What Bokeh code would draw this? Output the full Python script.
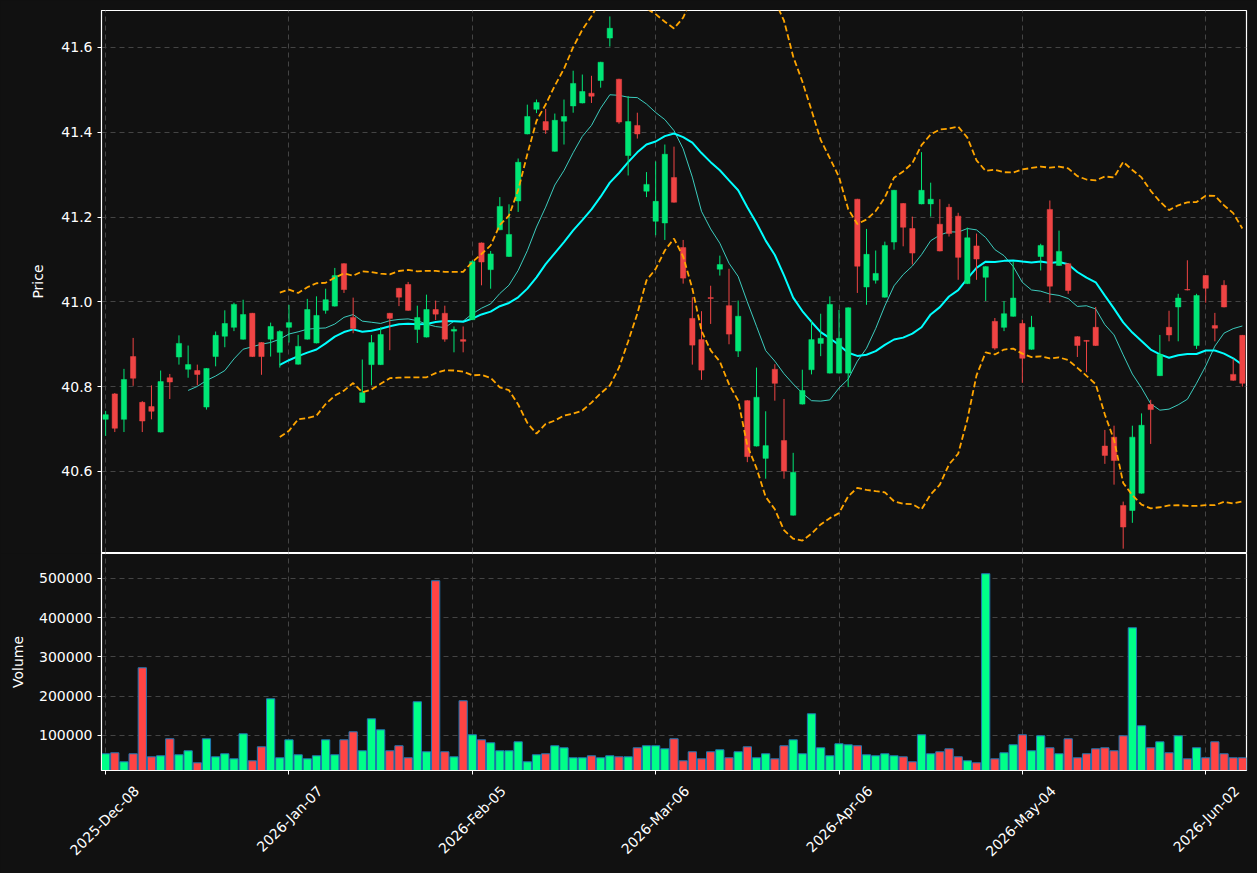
import numpy as np
import pandas as pd
from math import pi
from bokeh.plotting import figure
from bokeh.layouts import column
from bokeh.models import (ColumnDataSource, FixedTicker, NumeralTickFormatter, Range1d,
                          LinearAxis)
from bokeh.embed import file_html
from bokeh.resources import INLINE

opens = [40.723, 40.783, 40.723, 40.871, 40.763, 40.753, 40.693, 40.821, 40.870, 40.841,
         40.838, 40.752, 40.871, 40.919, 40.940, 40.912, 40.973, 40.904, 40.912, 40.881,
         40.940, 40.853, 40.912, 40.903, 40.980, 40.990, 41.090, 40.963, 40.763, 40.852,
         40.852, 40.973, 41.032, 41.041, 40.935, 40.917, 40.982, 40.973, 40.931, 40.911,
         40.958, 41.139, 41.076, 41.170, 41.107, 41.238, 41.396, 41.454, 41.425, 41.355,
         41.426, 41.462, 41.469, 41.492, 41.522, 41.622, 41.525, 41.345, 41.416, 41.261,
         41.190, 41.186, 41.293, 41.128, 40.961, 40.911, 41.010, 41.077, 40.991, 40.884,
         40.767, 40.660, 40.631, 40.841, 40.673, 40.497, 40.759, 40.840, 40.902, 40.832,
         40.832, 40.832, 41.242, 41.035, 41.051, 41.011, 41.141, 41.232, 41.173, 41.231,
         41.231, 41.183, 41.223, 41.202, 41.043, 41.132, 41.058, 40.954, 40.940, 40.966,
         40.949, 40.888, 41.107, 41.218, 41.086, 41.090, 40.918, 40.909, 40.940, 40.660,
         40.681, 40.520, 40.508, 40.549, 40.758, 40.826, 40.940, 40.988, 41.029, 40.897,
         41.062, 40.944, 41.039, 40.829, 40.921]
highs = [40.743, 40.785, 40.842, 40.915, 40.766, 40.803, 40.838, 40.830, 40.921, 40.897,
         40.852, 40.844, 40.930, 40.980, 40.998, 41.005, 40.974, 40.905, 40.951, 40.933,
         40.993, 40.922, 41.007, 41.013, 41.031, 41.080, 41.091, 41.010, 40.864, 40.922,
         40.940, 40.974, 41.033, 41.047, 40.991, 41.017, 41.003, 40.991, 40.942, 40.942,
         41.098, 41.140, 41.120, 41.247, 41.230, 41.338, 41.465, 41.477, 41.455, 41.444,
         41.477, 41.545, 41.536, 41.533, 41.566, 41.673, 41.526, 41.485, 41.446, 41.306,
         41.331, 41.371, 41.366, 41.146, 41.011, 40.978, 41.038, 41.109, 41.078, 41.003,
         40.768, 40.845, 40.742, 40.853, 40.771, 40.644, 40.840, 40.956, 40.972, 41.013,
         40.981, 40.987, 41.243, 41.172, 41.121, 41.142, 41.264, 41.233, 41.201, 41.353,
         41.281, 41.242, 41.231, 41.210, 41.175, 41.161, 41.084, 40.962, 41.002, 41.095,
         40.958, 40.967, 41.137, 41.239, 41.168, 41.091, 40.919, 40.910, 40.988, 40.698,
         40.708, 40.529, 40.708, 40.737, 40.769, 40.922, 40.979, 41.019, 41.098, 41.019,
         41.063, 40.974, 41.051, 40.866, 40.922]
lows = [40.684, 40.693, 40.693, 40.802, 40.693, 40.723, 40.692, 40.771, 40.852, 40.821,
        40.803, 40.746, 40.848, 40.893, 40.931, 40.911, 40.870, 40.828, 40.871, 40.845,
        40.904, 40.852, 40.911, 40.902, 40.972, 40.989, 41.021, 40.926, 40.762, 40.803,
        40.851, 40.886, 40.990, 40.979, 40.903, 40.916, 40.957, 40.906, 40.881, 40.881,
        40.957, 41.039, 41.031, 41.169, 41.106, 41.212, 41.395, 41.445, 41.396, 41.354,
        41.371, 41.446, 41.468, 41.469, 41.505, 41.602, 41.420, 41.298, 41.385, 41.247,
        41.157, 41.146, 41.234, 41.043, 40.852, 40.816, 40.948, 41.062, 40.900, 40.870,
        40.622, 40.659, 40.583, 40.767, 40.583, 40.496, 40.758, 40.829, 40.872, 40.831,
        40.831, 40.799, 41.021, 40.993, 41.043, 41.010, 41.123, 41.131, 41.088, 41.230,
        41.201, 41.119, 41.154, 41.052, 41.042, 41.052, 41.002, 40.887, 40.931, 40.965,
        40.809, 40.887, 41.074, 40.998, 41.085, 41.019, 40.870, 40.834, 40.896, 40.618,
        40.569, 40.418, 40.479, 40.548, 40.665, 40.825, 40.907, 40.907, 41.027, 40.889,
        40.998, 40.907, 40.987, 40.814, 40.800]
closes = [40.734, 40.702, 40.817, 40.820, 40.719, 40.742, 40.812, 40.811, 40.902, 40.852,
          40.829, 40.843, 40.921, 40.949, 40.994, 40.970, 40.871, 40.871, 40.942, 40.930,
          40.951, 40.895, 40.982, 40.968, 41.005, 41.062, 41.029, 40.937, 40.786, 40.904,
          40.923, 40.961, 41.011, 40.980, 40.963, 40.982, 40.971, 40.912, 40.935, 40.907,
          41.095, 41.094, 41.113, 41.225, 41.159, 41.329, 41.437, 41.470, 41.405, 41.428,
          41.437, 41.515, 41.496, 41.485, 41.565, 41.645, 41.424, 41.425, 41.396, 41.277,
          41.237, 41.348, 41.235, 41.056, 40.898, 40.839, 41.008, 41.088, 40.924, 40.966,
          40.635, 40.775, 40.661, 40.808, 40.601, 40.598, 40.791, 40.911, 40.914, 40.994,
          40.914, 40.986, 41.084, 41.112, 41.067, 41.133, 41.263, 41.176, 41.115, 41.263,
          41.242, 41.120, 41.161, 41.105, 41.151, 41.101, 41.083, 40.891, 40.972, 41.009,
          40.867, 40.940, 41.133, 41.037, 41.119, 41.027, 40.897, 40.907, 40.897, 40.638,
          40.626, 40.469, 40.681, 40.709, 40.746, 40.876, 40.922, 41.009, 41.028, 41.015,
          41.032, 40.938, 40.988, 40.815, 40.808]
volumes = [53400, 55900, 33000, 53400, 272500, 45700, 48300, 91600, 50800, 61000,
           30400, 91600, 45700, 53400, 40600, 104300, 35500, 71200, 193500, 43200,
           89000, 50800, 40600, 48300, 89000, 50800, 89000, 109400, 61000, 142500,
           114500, 61000, 73800, 43200, 185900, 58500, 494100, 58500, 45700, 188400,
           101800, 89000, 81400, 61000, 61000, 83900, 33000, 50800, 53400, 73800,
           68700, 43200, 43200, 48300, 43200, 48300, 45700, 45700, 68700, 73800,
           73800, 66100, 91600, 35500, 58500, 40600, 58500, 63600, 43200, 58500,
           71200, 43200, 53400, 40600, 73800, 89000, 53400, 155300, 68700, 48300,
           78900, 76300, 73800, 50800, 48300, 53400, 48300, 45700, 33000, 101800,
           53400, 58500, 66100, 45700, 35500, 30400, 512000, 40600, 55900, 76300,
           101800, 61000, 99200, 68700, 53400, 91600, 43200, 53400, 66100, 68700,
           61000, 99200, 374400, 124700, 68700, 83900, 55900, 99200, 40600, 68700,
           43200, 83900, 53400, 43200, 43200]
tick_index = [0, 20, 40, 60, 80, 100, 120]
tick_labels = ["2025-Dec-08", "2026-Jan-07", "2026-Feb-05", "2026-Mar-06",
               "2026-Apr-06", "2026-May-04", "2026-Jun-02"]

o = np.array(opens); h = np.array(highs); l = np.array(lows); c = np.array(closes)
v = np.array(volumes, dtype=float)
idx = np.arange(len(c))
up = c >= o

cs = pd.Series(c)
ma10 = cs.rolling(10).mean().to_numpy()
ma20 = cs.rolling(20).mean().to_numpy()
sd20 = cs.rolling(20).std().to_numpy()
upper = ma20 + 2 * sd20
lower = ma20 - 2 * sd20

BG = "#111111"
FONT = "DejaVu Sans"
W = 1257
LEFT, RIGHT = 101, 11
src = ColumnDataSource(dict(
    x=idx, h=h, l=l,
    top=np.maximum(o, c), bottom=np.minimum(o, c),
    color=["#00e676" if u else "#ef4444" for u in up],
    vol=v, vcolor=["#00ff88" if u else "#ff4444" for u in up],
))

x0, x1 = -0.45, len(c) - 0.55
xr = Range1d(x0, x1)


def style(p):
    p.background_fill_color = BG
    p.border_fill_color = BG
    p.outline_line_color = "white"
    p.outline_line_width = 1.2
    for ax in p.axis:
        ax.axis_line_color = "white"
        ax.major_tick_line_color = "white"
        ax.minor_tick_line_color = None
        ax.major_tick_in = 0
        ax.major_tick_out = 4
        ax.major_label_text_color = "white"
        ax.major_label_text_font = FONT
        ax.major_label_text_font_size = "14px"
        ax.axis_label_text_color = "white"
        ax.axis_label_text_font = FONT
        ax.axis_label_text_font_size = "14px"
        ax.axis_label_text_font_style = "normal"
    for g in p.grid:
        g.grid_line_color = "#444444"
        g.grid_line_dash = "5 4"
        g.grid_line_width = 1


# ---- price panel ----
p = figure(width=W, height=553, x_range=xr, y_range=Range1d(40.409, 41.687),
           output_backend="svg", toolbar_location=None, x_axis_location=None,
           min_border_left=LEFT, min_border_right=RIGHT, min_border_top=10, min_border_bottom=1)
style(p)
p.xgrid.ticker = FixedTicker(ticks=tick_index)
p.yaxis.ticker = FixedTicker(ticks=[40.6, 40.8, 41.0, 41.2, 41.4, 41.6])
p.yaxis.formatter = NumeralTickFormatter(format="0.0")
p.yaxis.axis_label = "Price"
p.yaxis.axis_label_standoff = 12

p.line(idx, ma10, line_color="#40e0d0", line_width=1, line_alpha=0.9)
p.line(idx, ma20, line_color="#00ffff", line_width=2)
p.segment(x0="x", y0="l", x1="x", y1="h", color="color", line_width=1, source=src)
p.vbar(x="x", top="top", bottom="bottom", width=0.58, fill_color="color",
       line_color="color", line_width=0.5, source=src)
p.line(idx, upper, line_color="#ffa500", line_width=1.8, line_dash="6 3")
p.line(idx, lower, line_color="#ffa500", line_width=1.8, line_dash="6 3")

# ---- volume panel ----
FRAME_H = 217
VB = 873 - 553 - FRAME_H
vy0, vy1 = 10800, 563500
q = figure(width=W, height=FRAME_H + VB, x_range=xr, y_range=Range1d(vy0, vy1),
           output_backend="svg", toolbar_location=None,
           min_border_left=LEFT, min_border_right=RIGHT, min_border_top=0, min_border_bottom=VB)
q.vbar(x="x", top="vol", bottom=0, width=0.9, fill_color="vcolor",
       line_color="#1f77b4", line_width=1, source=src)

# date labels: a second bottom axis on a slightly shifted range, so that the rotated
# labels sit centred under the real tick marks (as in the reference)
per_px = (x1 - x0) / (W - LEFT - RIGHT)
shift = 31 * per_px
q.extra_x_ranges = {"lab": Range1d(x0 - shift, x1 - shift)}
lab_axis = LinearAxis(x_range_name="lab", ticker=FixedTicker(ticks=tick_index),
                      major_label_overrides={t: s for t, s in zip(tick_index, tick_labels)})
q.add_layout(lab_axis, "below")
style(q)
q.xaxis[0].ticker = FixedTicker(ticks=tick_index)
q.xaxis[0].major_label_text_font_size = "0px"
q.xaxis[0].major_label_text_color = None
q.xaxis[0].major_label_standoff = 0
lab_axis.axis_line_color = None
lab_axis.major_tick_line_color = None
lab_axis.major_tick_out = 0
lab_axis.major_label_orientation = pi / 4
lab_axis.major_label_standoff = 14
q.yaxis.ticker = FixedTicker(ticks=[100000, 200000, 300000, 400000, 500000])
q.yaxis.formatter = NumeralTickFormatter(format="0")
q.yaxis.axis_label = "Volume"
q.yaxis.axis_label_standoff = 10

layout = column(p, q, spacing=0)
layout.styles = {"background-color": BG}
open("out.html", "w").write(file_html(layout, INLINE))
